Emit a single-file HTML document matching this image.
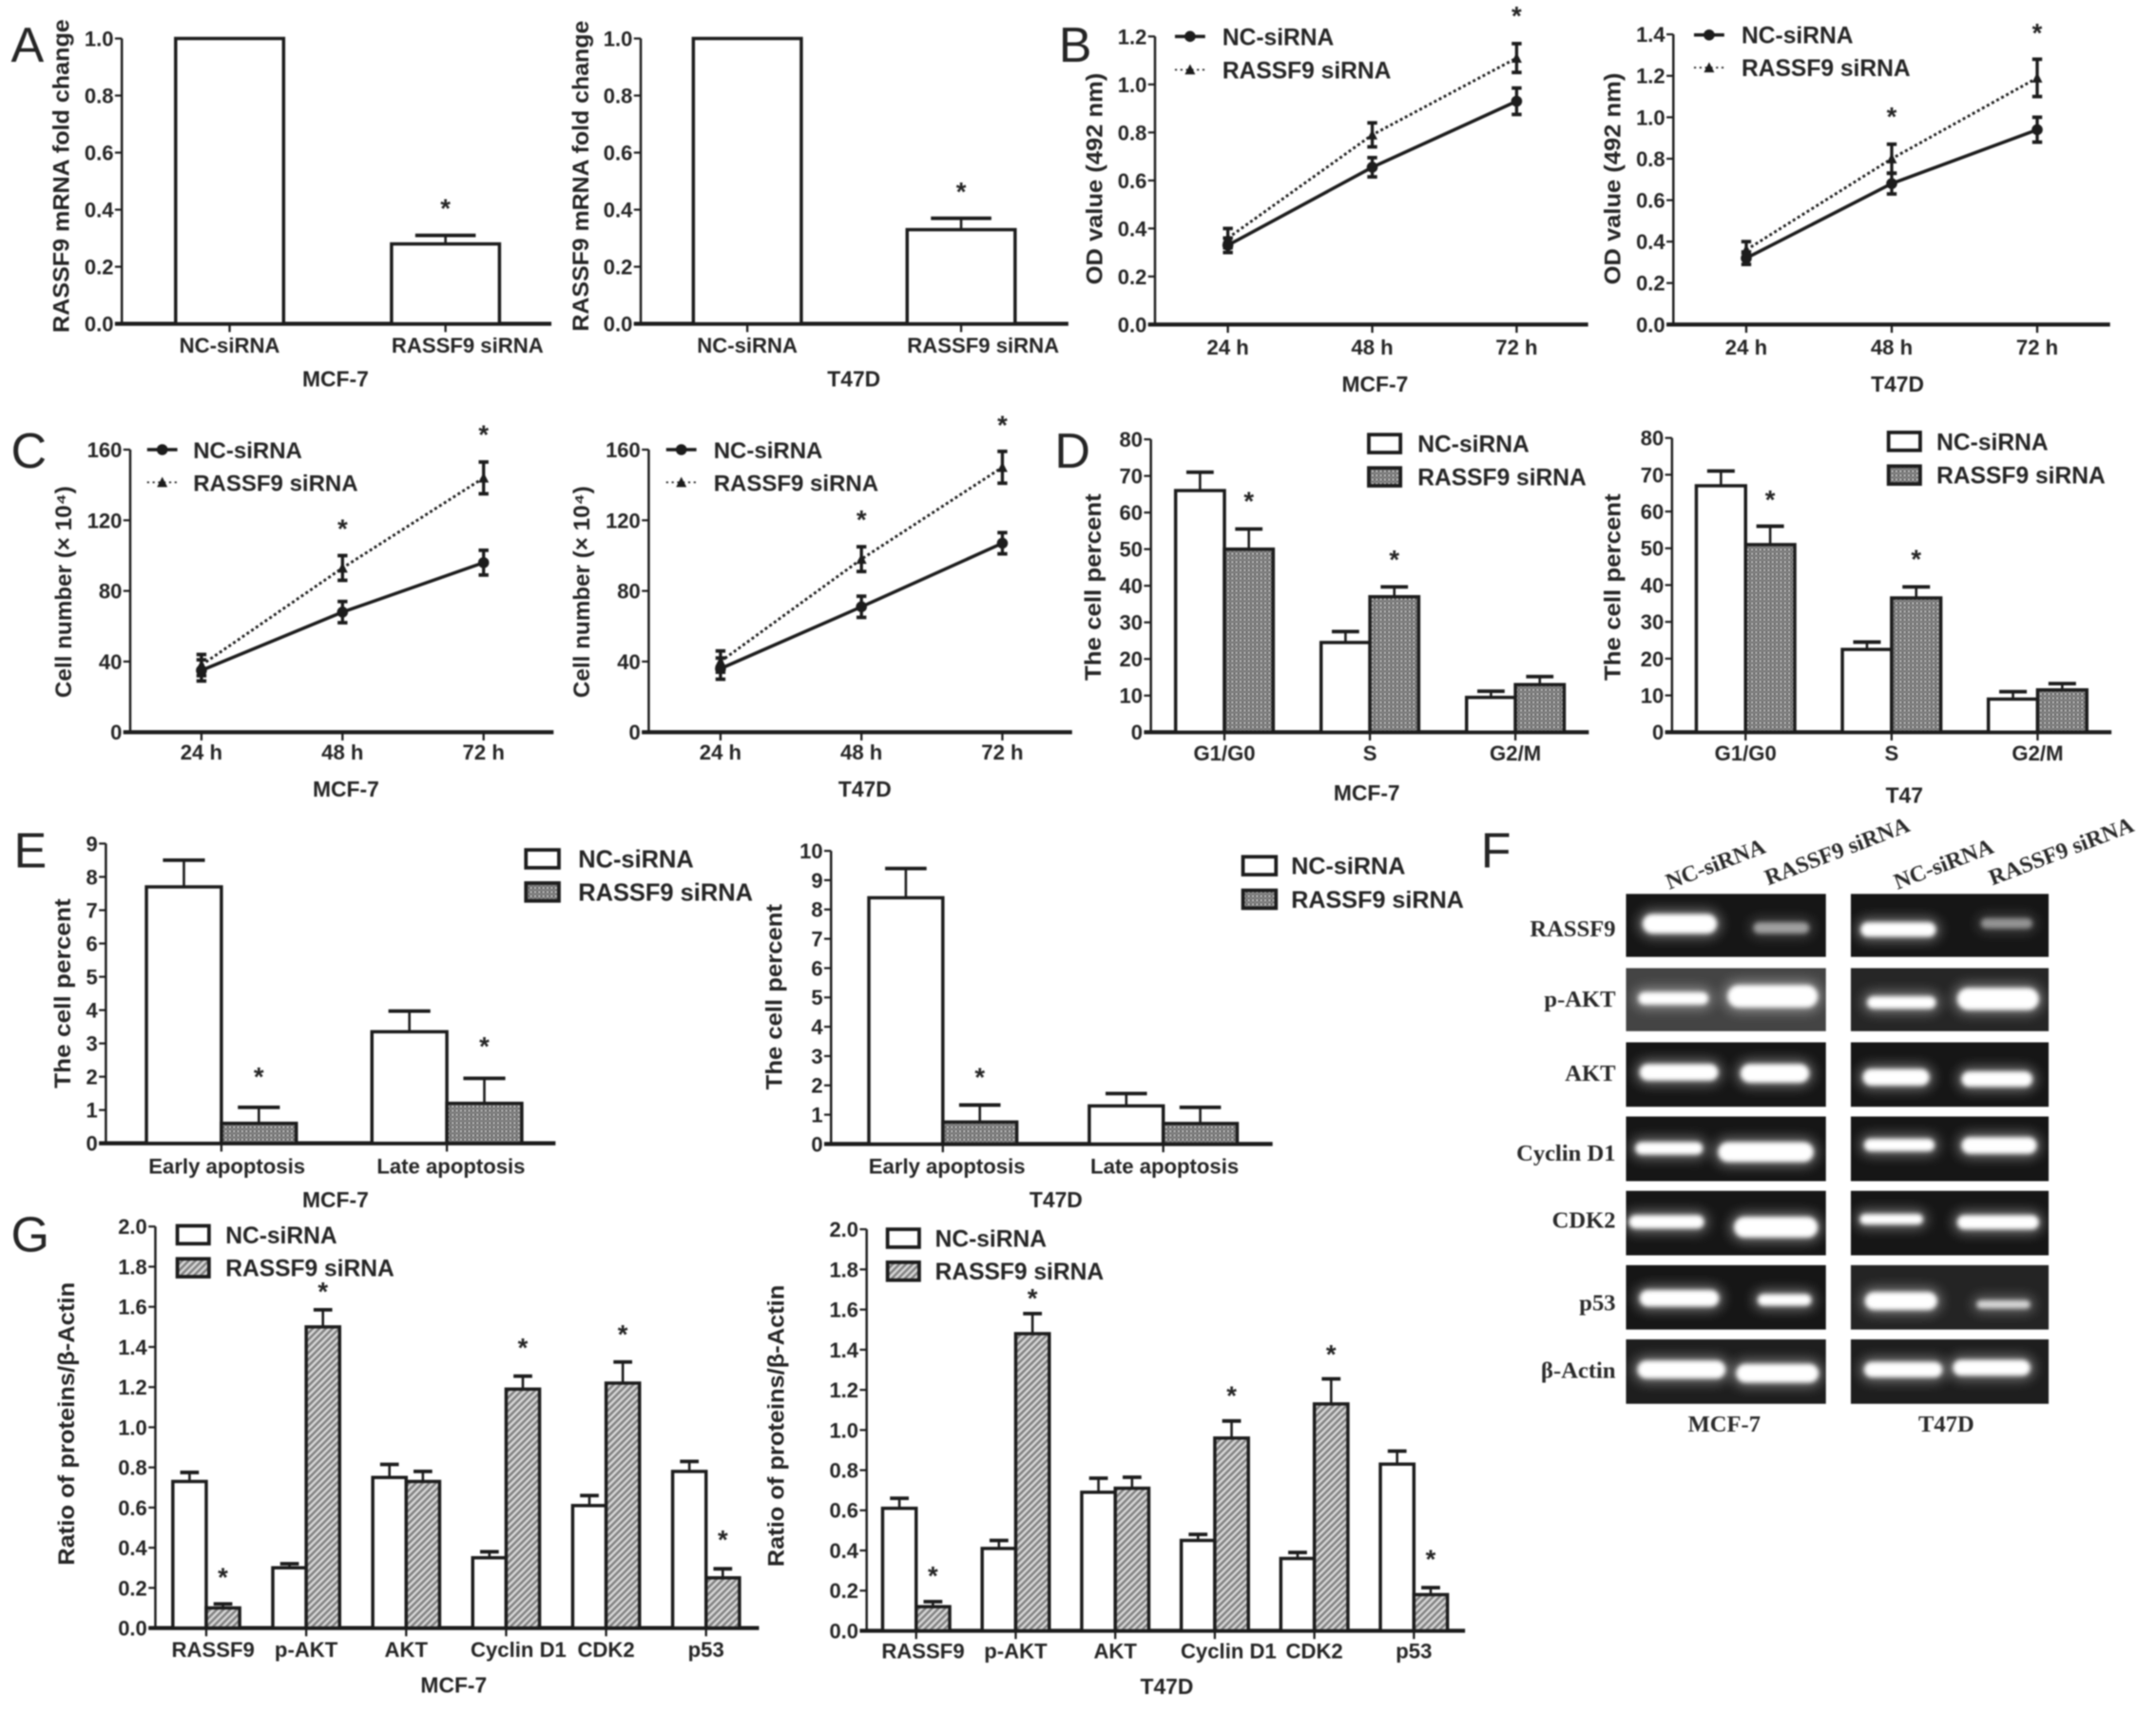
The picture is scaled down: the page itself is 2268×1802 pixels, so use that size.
<!DOCTYPE html>
<html lang="en">
<head>
<meta charset="utf-8">
<title>RASSF9 siRNA multi-panel figure</title>
<style>
html,body{margin:0;padding:0;background:#fff;width:2268px;height:1802px;overflow:hidden}
svg{display:block;filter:blur(0.8px)}
text{font-family:"Liberation Sans",Arial,sans-serif;fill:#252525}
.bold{font-weight:bold}
.serif{font-family:"Liberation Serif","Times New Roman",serif;font-weight:bold;fill:#2a2a2a}
</style>
</head>
<body>
<svg id="figure" xmlns="http://www.w3.org/2000/svg" width="2268" height="1802" viewBox="0 0 1568 1245.8" preserveAspectRatio="none">
<defs>
<pattern id="dots" width="3" height="3" patternUnits="userSpaceOnUse">
<rect width="3" height="3" fill="#8a8a8a"/>
<rect width="1.5" height="1.5" fill="#5a5a5a"/>
<rect x="1.5" y="1.5" width="1.5" height="1.5" fill="#6a6a6a"/>
<rect x="1.5" width="1.5" height="1.5" fill="#c4c4c4"/>
</pattern>
<pattern id="hatch" width="3.4" height="3.4" patternUnits="userSpaceOnUse" patternTransform="rotate(-45)">
<rect width="3.4" height="3.4" fill="#d8d8d8"/>
<rect width="3.4" height="1.7" fill="#808080"/>
</pattern>
<filter id="bandBlur" x="-20%" y="-60%" width="140%" height="220%"><feGaussianBlur stdDeviation="1.6"/></filter>
<filter id="haloBlur" x="-30%" y="-120%" width="160%" height="340%"><feGaussianBlur stdDeviation="4.5"/></filter>
</defs>
<text x="8" y="45" font-size="36">A</text>
<text x="770" y="45" font-size="36">B</text>
<text x="8" y="340" font-size="36">C</text>
<text x="767" y="340" font-size="36">D</text>
<text x="10" y="631" font-size="36">E</text>
<text x="1077" y="631" font-size="36">F</text>
<text x="8" y="910" font-size="36">G</text>
</svg>
<script>
// ---------- Panel A ----------
const a1Categories = ['NC-siRNA', 'RASSF9 siRNA'];
const a1Values = [1.0, 0.28];
const a1Errors = [0, 0.03];
const a1Stars = [null, 0.415];
const a1Ticks = ['0.0', '0.2', '0.4', '0.6', '0.8', '1.0'];
const a2Categories = ['NC-siRNA', 'RASSF9 siRNA'];
const a2Values = [1.0, 0.33];
const a2Errors = [0, 0.04];
const a2Stars = [null, 0.473];
const a2Ticks = ['0.0', '0.2', '0.4', '0.6', '0.8', '1.0'];
// ---------- Panel B ----------
const timeCategories = ['24 h', '48 h', '72 h'];
const b1Nc = [0.33, 0.655, 0.93];
const b1NcErr = [0.03, 0.04, 0.055];
const b1Si = [0.36, 0.79, 1.11];
const b1SiErr = [0.04, 0.05, 0.06];
const b1Stars = [null, null, 1.297];
const b1Ticks = ['0.0', '0.2', '0.4', '0.6', '0.8', '1.0', '1.2'];
const b2Nc = [0.32, 0.68, 0.94];
const b2NcErr = [0.03, 0.05, 0.06];
const b2Si = [0.36, 0.8, 1.19];
const b2SiErr = [0.04, 0.07, 0.09];
const b2Stars = [null, 1.017, 1.42];
const b2Ticks = ['0.0', '0.2', '0.4', '0.6', '0.8', '1.0', '1.2', '1.4'];
// ---------- Panel C ----------
const c1Nc = [35, 68, 96];
const c1NcErr = [6, 6, 7];
const c1Si = [38, 93, 144];
const c1SiErr = [6, 7, 9];
const c1Stars = [null, 116.7, 170];
const c1Ticks = ['0', '40', '80', '120', '160'];
const c2Nc = [36, 71, 107];
const c2NcErr = [6, 6, 6];
const c2Si = [40, 98, 150];
const c2SiErr = [6, 7, 9];
const c2Stars = [null, 122, 175.5];
const c2Ticks = ['0', '40', '80', '120', '160'];
// ---------- Panel D ----------
const phaseCategories = ['G1/G0', 'S', 'G2/M'];
const d1Nc = [66, 24.5, 9.5];
const d1NcErr = [5, 3, 1.7];
const d1Si = [50, 37, 13];
const d1SiErr = [5.5, 2.7, 2.2];
const d1Stars = [63.9, 47.9, null];
const d2Nc = [67, 22.5, 9];
const d2NcErr = [4, 2, 2];
const d2Si = [51, 36.5, 11.5];
const d2SiErr = [5, 3, 1.7];
const d2Stars = [64, 47.8, null];
const dTicks = ['0', '10', '20', '30', '40', '50', '60', '70', '80'];
// ---------- Panel E ----------
const apoptosisCategories = ['Early apoptosis', 'Late apoptosis'];
const e1Nc = [7.7, 3.35];
const e1NcErr = [0.8, 0.62];
const e1Si = [0.6, 1.2];
const e1SiErr = [0.48, 0.75];
const e1Stars = [2.09, 3.0];
const e1Ticks = ['0', '1', '2', '3', '4', '5', '6', '7', '8', '9'];
const e2Nc = [8.4, 1.3];
const e2NcErr = [1.0, 0.42];
const e2Si = [0.75, 0.7];
const e2SiErr = [0.58, 0.55];
const e2Stars = [2.38, null];
const e2Ticks = ['0', '1', '2', '3', '4', '5', '6', '7', '8', '9', '10'];
// ---------- Panel G ----------
const proteinCategories = ['RASSF9', 'p-AKT', 'AKT', 'Cyclin D1', 'CDK2', 'p53'];
const g1Nc = [0.73, 0.3, 0.75, 0.35, 0.61, 0.78];
const g1NcErr = [0.045, 0.02, 0.065, 0.03, 0.05, 0.05];
const g1Si = [0.1, 1.5, 0.73, 1.19, 1.22, 0.25];
const g1SiErr = [0.02, 0.085, 0.05, 0.065, 0.105, 0.045];
const g1Stars = [0.268, 1.69, null, 1.41, 1.478, 0.454];
const g2Nc = [0.61, 0.41, 0.69, 0.45, 0.36, 0.83];
const g2NcErr = [0.05, 0.04, 0.07, 0.03, 0.03, 0.065];
const g2Si = [0.12, 1.48, 0.71, 0.96, 1.13, 0.18];
const g2SiErr = [0.025, 0.1, 0.055, 0.085, 0.125, 0.035];
const g2Stars = [0.288, 1.67, null, 1.185, 1.39, 0.37];
const gTicks = ['0.0', '0.2', '0.4', '0.6', '0.8', '1.0', '1.2', '1.4', '1.6', '1.8', '2.0'];

const NS = 'http://www.w3.org/2000/svg';
const root = document.getElementById('figure');
const INK = '#1c1c1c';

function el(tag, parent, attrs) {
  const node = document.createElementNS(NS, tag);
  for (const k in attrs) node.setAttribute(k, attrs[k]);
  parent.appendChild(node);
  return node;
}
function line(parent, name, x1, y1, x2, y2, w, dash) {
  const n = el('line', parent, {x1: x1, y1: y1, x2: x2, y2: y2, stroke: INK, 'stroke-width': w});
  if (dash) n.setAttribute('stroke-dasharray', dash);
  
  
  return n;
}
function label(parent, name, x, y, str, size, anchor, cls) {
  const n = el('text', parent, {x: x, y: y, 'font-size': size, 'text-anchor': anchor || 'middle', class: cls || 'bold'});
  n.textContent = str;
  
  
  return n;
}
function makeGroup(name) {
  const g = el('g', root, {});
  
  
  return g;
}

function drawFrame(g, c) {
  const y = v => c.base - (v / Number(c.ticks[c.ticks.length - 1])) * (c.base - c.top);
  line(g, 'y-axis', c.axisX, c.top, c.axisX, c.base, 1.7);
  line(g, 'x-axis', c.axisX - 5, c.base, c.xEnd, c.base, 3);
  c.ticks.forEach(t => {
    const ty = y(Number(t));
    line(g, 'y-tick-' + t, c.axisX - 5, ty, c.axisX, ty, 1.5);
    label(g, 'y-tick-label-' + t, c.axisX - 6, ty + 5.5, t, 15.2, 'end');
  });
  const title = label(g, 'y-axis-title', c.titleX + 0.5, c.titleY, c.title, 16.5);
  title.setAttribute('textLength', c.titleLen);
  title.setAttribute('lengthAdjust', 'spacingAndGlyphs');
  title.setAttribute('transform', 'rotate(-90 ' + (c.titleX + 0.5) + ' ' + c.titleY + ')');
  label(g, 'x-axis-title', c.captionX, c.captionY, c.caption, 15.8);
  return y;
}
function drawStar(g, x, yPos) {
  label(g, 'significance-star', x, yPos + 8.5, '*', 19);
}
function barErr(g, x, yv, yt, capW) {
  line(g, 'error-stem', x, yv, x, yt, 1.8);
  line(g, 'error-cap', x - capW / 2, yt, x + capW / 2, yt, 2.6);
}

function drawBars(c) {
  const g = makeGroup(c.name);
  const y = drawFrame(g, c);
  const n = c.series.length;
  c.categories.forEach((cat, i) => {
    const cx = c.x0 + i * c.step;
    line(g, 'x-tick-' + cat, cx, c.base, cx, c.base + 6, 1.6);
    label(g, 'x-tick-label-' + cat, cx + (c.labelDx ? c.labelDx[i] : 0), c.labelY, cat, 15.3);
    c.series.forEach((s, j) => {
      const bx = cx + (j - n / 2) * c.barW;
      const err = s.errors[i];
      if (err > 0) {
        barErr(g, bx + c.barW / 2, y(s.values[i]), y(s.values[i] + err), c.barW * 0.56);
      }
      const bar = el('rect', g, {x: bx, y: y(s.values[i]), width: c.barW, height: c.base - y(s.values[i]), fill: s.fill, stroke: INK, 'stroke-width': 2.4});
      
      
    });
    if (c.stars[i] !== null) {
      const sx = cx + (n === 1 ? 0 : c.barW / 2);
      drawStar(g, sx, y(c.stars[i]));
    }
  });
  if (c.legend) {
    c.series.forEach((s, j) => {
      const ly = c.legend.y + j * c.legend.gap;
      const box = el('rect', g, {x: c.legend.x, y: ly - 6.5, width: c.legend.w, height: 13, fill: s.fill, stroke: INK, 'stroke-width': 2.6});
      
      
      label(g, 'legend-label-' + s.key, c.legend.tx, ly + 6.2, s.label, c.legend.size || 17, 'start');
    });
  }
}

function drawMarker(g, kind, x, y) {
  let m;
  if (kind === 'nc') {
    m = el('circle', g, {cx: x, cy: y, r: 4, fill: INK});
  } else {
    m = el('polygon', g, {points: (x - 3.8) + ',' + (y + 3.4) + ' ' + (x + 3.8) + ',' + (y + 3.4) + ' ' + x + ',' + (y - 4), fill: INK});
  }
  
  
}

function drawLines(c) {
  const g = makeGroup(c.name);
  const y = drawFrame(g, c);
  const x = i => c.x0 + i * c.step;
  c.categories.forEach((cat, i) => {
    line(g, 'x-tick-' + cat, x(i), c.base, x(i), c.base + 6, 1.6);
    label(g, 'x-tick-label-' + cat, x(i), c.labelY, cat, 15.3);
    if (c.stars[i] !== null) drawStar(g, x(i), y(c.stars[i]));
  });
  c.series.slice().reverse().forEach(s => {
    const pts = s.values.map((v, i) => x(i) + ',' + y(v)).join(' ');
    const pl = el('polyline', g, {points: pts, fill: 'none', stroke: INK, 'stroke-width': s.key === 'nc' ? 2.4 : 2});
    if (s.key !== 'nc') pl.setAttribute('stroke-dasharray', '2 2');
    
    
    s.values.forEach((v, i) => {
      const top = y(v + s.errors[i]);
      const bot = y(v - s.errors[i]);
      line(g, 'error-stem-' + s.key, x(i), top, x(i), bot, 2.3);
      line(g, 'error-cap-' + s.key, x(i) - 3.6, top, x(i) + 3.6, top, 2.6);
      line(g, 'error-cap-' + s.key, x(i) - 3.6, bot, x(i) + 3.6, bot, 2.6);
      drawMarker(g, s.key, x(i), y(v));
    });
  });
  c.series.forEach((s, j) => {
    const ly = c.legend.y + j * c.legend.gap;
    line(g, 'legend-line-' + s.key, c.legend.x, ly, c.legend.x + 22, ly, s.key === 'nc' ? 2.4 : 1.2, s.key === 'nc' ? null : '1.5 2.5');
    drawMarker(g, s.key, c.legend.x + 11, ly);
    label(g, 'legend-label-' + s.key, c.legend.tx, ly + 6.2, s.label, c.legend.size || 17, 'start');
  });
}

function two(ncV, ncE, siV, siE, siFill) {
  return [
    {key: 'nc', label: 'NC-siRNA', values: ncV, errors: ncE, fill: '#fff'},
    {key: 'si', label: 'RASSF9 siRNA', values: siV, errors: siE, fill: siFill}
  ];
}
const mrnaTitle = 'RASSF9 mRNA fold change';
const odTitle = 'OD value (492 nm)';
const cellTitle = 'Cell number (× 10⁴)';
const pctTitle = 'The cell percent';
const ratioTitle = 'Ratio of proteins/β-Actin';

drawBars({name: 'chart-a-mcf7', categories: a1Categories, series: [{key: 'single', values: a1Values, errors: a1Errors, fill: '#fff'}], stars: a1Stars, ticks: a1Ticks, axisX: 88.6, xEnd: 401, top: 28, base: 235.5, x0: 167, step: 157, barW: 78.5, labelY: 256.5, labelDx: [0, 16], title: mrnaTitle, titleX: 49.5, titleY: 128, titleLen: 228, caption: 'MCF-7', captionX: 244, captionY: 281});
drawBars({name: 'chart-a-t47d', categories: a2Categories, series: [{key: 'single', values: a2Values, errors: a2Errors, fill: '#fff'}], stars: a2Stars, ticks: a2Ticks, axisX: 466, xEnd: 777, top: 28, base: 235.5, x0: 543.5, step: 155.5, barW: 78.5, labelY: 256.5, labelDx: [0, 16], title: mrnaTitle, titleX: 427.5, titleY: 128, titleLen: 226, caption: 'T47D', captionX: 621, captionY: 281});

drawLines({name: 'chart-b-mcf7', categories: timeCategories, series: two(b1Nc, b1NcErr, b1Si, b1SiErr), stars: b1Stars, ticks: b1Ticks, axisX: 840, xEnd: 1155, top: 26.5, base: 236, x0: 893, step: 105, labelY: 258, title: odTitle, titleX: 801, titleY: 130, titleLen: 154, caption: 'MCF-7', captionX: 1000, captionY: 285, legend: {x: 854.5, y: 26.5, gap: 24.2, tx: 889}});
drawLines({name: 'chart-b-t47d', categories: timeCategories, series: two(b2Nc, b2NcErr, b2Si, b2SiErr), stars: b2Stars, ticks: b2Ticks, axisX: 1217, xEnd: 1534.6, top: 25, base: 236, x0: 1270, step: 105.8, labelY: 258, title: odTitle, titleX: 1178, titleY: 130, titleLen: 154, caption: 'T47D', captionX: 1380, captionY: 285, legend: {x: 1232, y: 25.4, gap: 23.8, tx: 1266.6}});

drawLines({name: 'chart-c-mcf7', categories: timeCategories, series: two(c1Nc, c1NcErr, c1Si, c1SiErr), stars: c1Stars, ticks: c1Ticks, axisX: 94.7, xEnd: 402.6, top: 327, base: 532.5, x0: 146.5, step: 102.6, labelY: 552.5, title: cellTitle, titleX: 51.5, titleY: 430.5, titleLen: 154, caption: 'MCF-7', captionX: 251.6, captionY: 579.5, legend: {x: 107, y: 327, gap: 23.8, tx: 140.5, size: 16.6}});
drawLines({name: 'chart-c-t47d', categories: timeCategories, series: two(c2Nc, c2NcErr, c2Si, c2SiErr), stars: c2Stars, ticks: c2Ticks, axisX: 471.8, xEnd: 779.7, top: 327, base: 532.5, x0: 524, step: 102.5, labelY: 552.5, title: cellTitle, titleX: 428, titleY: 430.5, titleLen: 154, caption: 'T47D', captionX: 629, captionY: 579.5, legend: {x: 484.5, y: 327, gap: 23.8, tx: 519, size: 16.6}});

drawBars({name: 'chart-d-mcf7', categories: phaseCategories, series: two(d1Nc, d1NcErr, d1Si, d1SiErr, 'url(#dots)'), stars: d1Stars, ticks: dTicks, axisX: 837, xEnd: 1155.5, top: 319.5, base: 532.5, x0: 890.5, step: 105.8, barW: 35.5, labelY: 553, title: pctTitle, titleX: 800, titleY: 427, titleLen: 136, caption: 'MCF-7', captionX: 994, captionY: 582, legend: {x: 995.5, y: 322.6, gap: 24.2, w: 23, tx: 1031}});
drawBars({name: 'chart-d-t47', categories: phaseCategories, series: two(d2Nc, d2NcErr, d2Si, d2SiErr, 'url(#dots)'), stars: d2Stars, ticks: dTicks, axisX: 1216, xEnd: 1535.6, top: 318.5, base: 532.5, x0: 1269.5, step: 106.2, barW: 35.8, labelY: 553, title: pctTitle, titleX: 1178, titleY: 427, titleLen: 136, caption: 'T47', captionX: 1385, captionY: 584, legend: {x: 1373.5, y: 321, gap: 24.5, w: 23, tx: 1408.4}});

drawBars({name: 'chart-e-mcf7', categories: apoptosisCategories, series: two(e1Nc, e1NcErr, e1Si, e1SiErr, 'url(#dots)'), stars: e1Stars, ticks: e1Ticks, axisX: 77, xEnd: 404, top: 613.5, base: 831.5, x0: 161, step: 164, barW: 54.5, labelY: 853.5, labelDx: [4, 3], title: pctTitle, titleX: 50.5, titleY: 722.5, titleLen: 138, caption: 'MCF-7', captionX: 244, captionY: 878, legend: {x: 382.5, y: 624.6, gap: 24.1, w: 24, tx: 420.5, size: 17.6}});
drawBars({name: 'chart-e-t47d', categories: apoptosisCategories, series: two(e2Nc, e2NcErr, e2Si, e2SiErr, 'url(#dots)'), stars: e2Stars, ticks: e2Ticks, axisX: 604.4, xEnd: 925.5, top: 618.8, base: 832, x0: 685.7, step: 160.3, barW: 53.8, labelY: 853.5, labelDx: [3, 1], title: pctTitle, titleX: 568, titleY: 725, titleLen: 135, caption: 'T47D', captionX: 768, captionY: 878, legend: {x: 904, y: 629.6, gap: 24.4, w: 24, tx: 939, size: 17.4}});

drawBars({name: 'chart-g-mcf7', categories: proteinCategories, series: two(g1Nc, g1NcErr, g1Si, g1SiErr, 'url(#hatch)'), stars: g1Stars, ticks: gTicks, axisX: 113, xEnd: 552, top: 892, base: 1184, x0: 150, step: 72.7, barW: 24.3, labelY: 1205, labelDx: [5, 0, 0, 9, 0, 0], title: ratioTitle, titleX: 53.5, titleY: 1035.5, titleLen: 206, caption: 'MCF-7', captionX: 330, captionY: 1231, legend: {x: 129, y: 898, gap: 24, w: 23, tx: 164}});
drawBars({name: 'chart-g-t47d', categories: proteinCategories, series: two(g2Nc, g2NcErr, g2Si, g2SiErr, 'url(#hatch)'), stars: g2Stars, ticks: gTicks, axisX: 630.3, xEnd: 1065.5, top: 894, base: 1186, x0: 666.3, step: 72.4, barW: 24.4, labelY: 1206, labelDx: [5, 0, 0, 10, 0, 0], title: ratioTitle, titleX: 569.5, titleY: 1037, titleLen: 205, caption: 'T47D', captionX: 848.6, captionY: 1232, legend: {x: 645.5, y: 900.5, gap: 24, w: 23, tx: 680}});

// ---------- Panel F: gel image blots ----------
const blotLabels = ['RASSF9', 'p-AKT', 'AKT', 'Cyclin D1', 'CDK2', 'p53', 'β-Actin'];
const blotRowTops = [650, 704, 758, 812, 866, 920, 974];
const blotRowLabelBase = [681, 732, 786, 844, 893, 953, 1002];
const blotBands = [
  [[372, 545, 235, 282, 1], [630, 760, 255, 282, 0.5], [880, 1055, 255, 290, 1], [1160, 1280, 245, 270, 0.45]],
  [[362, 525, 425, 455, 1], [570, 780, 408, 462, 1], [895, 1055, 435, 465, 1], [1105, 1295, 415, 468, 1]],
  [[365, 548, 600, 640, 1], [600, 760, 600, 645, 1], [885, 1040, 612, 652, 1], [1115, 1280, 618, 655, 1]],
  [[355, 512, 790, 820, 1], [548, 770, 790, 838, 1], [888, 1052, 782, 812, 1], [1115, 1290, 778, 818, 1]],
  [[340, 515, 968, 1000, 1], [585, 780, 972, 1022, 1], [878, 1025, 965, 990, 1], [1105, 1295, 968, 1002, 1]],
  [[365, 550, 1150, 1190, 1], [640, 765, 1160, 1188, 1], [890, 1058, 1155, 1198, 1], [1150, 1275, 1175, 1195, 0.75]],
  [[360, 565, 1322, 1365, 1], [590, 782, 1330, 1375, 1], [888, 1070, 1325, 1362, 1], [1095, 1275, 1320, 1358, 1]]
];
const fGroup = makeGroup('panel-f-western-blot');
const blotX = z => 1078.5 + z * 0.3122;
const blotY = z => 594.6 + z * 0.2988;
blotLabels.forEach((name, r) => {
  label(fGroup, 'blot-label-' + name, 1175, blotRowLabelBase[r], name, 17, 'end', 'serif');
  [[1182.5, 145.5], [1346, 144]].forEach((col, k) => {
    const top = blotRowTops[r];
    const h = r < 2 ? 46 : 47;
    const clip = el('clipPath', fGroup, {id: 'blot-clip-' + r + '-' + k});
    el('rect', clip, {x: col[0], y: top, width: col[1], height: h});
    const frame = el('g', fGroup, {'clip-path': 'url(#blot-clip-' + r + '-' + k + ')'});
    
    
    let bg = '#161616';
    if (r === 1) bg = k === 0 ? '#444444' : '#262626';
    if (r === 5 && k === 1) bg = '#242424';
    if (r === 6) bg = '#1e1e1e';
    el('rect', frame, {x: col[0], y: top, width: col[1], height: h, fill: bg});
    [0, 1].forEach(b => {
      const d = blotBands[r][k * 2 + b];
      const bx = blotX(d[0]);
      const bw = blotX(d[1]) - bx;
      const by = blotY(d[2]);
      const bh = blotY(d[3]) - by;
      el('rect', frame, {x: bx - 3, y: by - 3, width: bw + 6, height: bh + 6, rx: (bh + 6) / 2, fill: '#fff', opacity: 0.4 * d[4], filter: 'url(#haloBlur)'});
      const band = el('rect', frame, {x: bx, y: by, width: bw, height: bh, rx: bh / 2, fill: '#fff', opacity: d[4], filter: 'url(#bandBlur)'});
      
      
    });
  });
});
[['NC-siRNA', 1214, 647], ['RASSF9 siRNA', 1286, 644], ['NC-siRNA', 1380, 647], ['RASSF9 siRNA', 1449, 644]].forEach(t => {
  const lane = label(fGroup, 'lane-label-' + t[0], t[1], t[2], t[0], 16.5, 'start', 'serif');
  lane.setAttribute('transform', 'rotate(-21 ' + t[1] + ' ' + t[2] + ')');
});
label(fGroup, 'blot-caption-mcf7', 1254, 1041, 'MCF-7', 17, 'middle', 'serif');
label(fGroup, 'blot-caption-t47d', 1415.5, 1041, 'T47D', 17, 'middle', 'serif');
</script>
</body>
</html>
